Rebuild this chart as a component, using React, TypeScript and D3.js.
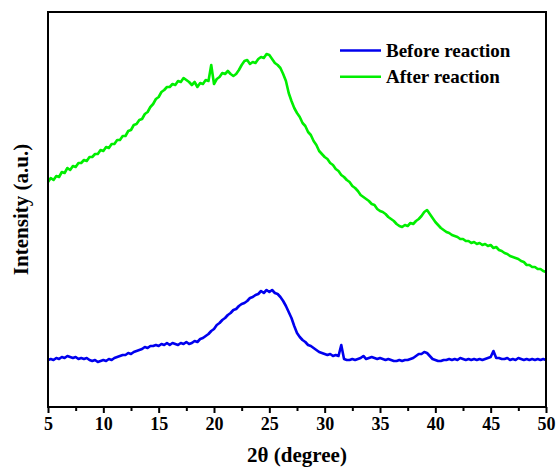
import React, { useRef, useEffect } from "react";
import * as d3 from "d3";

// sampling grid in 2theta (degree), 0.25 step from 5 to 50
const theta = d3.range(5, 50.125, 0.25);

// intensities (a.u.), one per theta
const afterIntensity = [
    225, 229, 227, 231, 230, 235, 234, 239, 237, 241, 240, 244, 244, 247, 246, 250, 250, 253, 253, 257,
    256, 260, 259, 263, 263, 267, 267, 271, 271, 276, 277, 282, 283, 287, 288, 293, 295, 300, 303, 308,
    310, 315, 317, 320, 320, 323, 322, 326, 325, 329, 327, 325, 322, 325, 320, 324, 323, 327, 326, 342,
    323, 328, 330, 334, 333, 336, 333, 331, 333, 337, 342, 346, 347, 343, 345, 344, 348, 350, 349, 353,
    352, 348, 344, 342, 339, 333, 326, 314, 306, 299, 294, 290, 284, 281, 275, 272, 266, 262, 256, 253,
    250, 248, 244, 242, 238, 236, 232, 230, 227, 225, 221, 219, 216, 212, 210, 208, 206, 203, 202, 198,
    196, 195, 193, 190, 188, 186, 183, 181, 180, 182, 181, 184, 183, 186, 188, 191, 195, 197, 193, 189,
    185, 182, 179, 177, 175, 174, 172, 171, 170, 168, 168, 166, 166, 164, 165, 163, 164, 162, 163, 161,
    162, 159, 160, 157, 156, 154, 153, 151, 150, 149, 148, 146, 145, 142, 142, 140, 140, 138, 138, 136,
    135,
];
const beforeIntensity = [
    47, 48, 47, 49, 48, 50, 49, 51, 50, 49, 50, 48, 49, 48, 49, 47, 46, 47, 45, 46,
    47, 46, 48, 47, 49, 50, 51, 52, 52, 54, 53, 55, 56, 57, 58, 60, 59, 61, 61, 62,
    61, 63, 62, 64, 62, 64, 63, 62, 64, 63, 65, 63, 64, 66, 65, 68, 69, 71, 73, 76,
    78, 82, 84, 87, 89, 92, 94, 97, 98, 101, 103, 104, 106, 109, 110, 112, 113, 116, 114, 117,
    115, 117, 114, 113, 110, 106, 101, 95, 89, 81, 74, 70, 67, 65, 62, 61, 59, 57, 55, 54,
    53, 52, 53, 51, 52, 51, 62, 48, 47, 47, 48, 47, 48, 49, 51, 48, 49, 50, 49, 48,
    49, 48, 47, 48, 47, 46, 46, 47, 46, 47, 47, 48, 49, 51, 53, 53, 55, 54, 51, 48,
    47, 46, 46, 47, 47, 48, 47, 48, 47, 49, 48, 47, 48, 47, 48, 47, 48, 47, 48, 49,
    50, 56, 49, 49, 48, 48, 49, 47, 48, 47, 49, 48, 47, 48, 47, 48, 47, 48, 47, 48,
    47,
];

const seriesNames = ["Before reaction", "After reaction"];
const seriesColors = ["#0000ee", "#00ee00"];
const xTicks = [5, 10, 15, 20, 25, 30, 35, 40, 45, 50];
const xMinorTicks = [7.5, 12.5, 17.5, 22.5, 27.5, 32.5, 37.5, 42.5, 47.5];

const App = () => {
    const plot = useRef<SVGSVGElement>(null);

    const width = 557;
    const height = 468;
    const left = 48, right = 546, top = 12, bottom = 407;
    const font = "'Liberation Serif', 'Times New Roman', serif";

    useEffect(() => {
        const svg = d3.select(plot.current);
        svg.selectAll("*").remove();

        const xScale = d3.scaleLinear().domain([5, 50]).range([left, right]);
        const yScale = d3.scaleLinear().domain([0, 395]).range([bottom, top]);

        const line = d3.line<[number, number]>()
            .x(d => xScale(d[0]))
            .y(d => yScale(d[1]))
            .curve(d3.curveLinear);

        const series = [
            theta.map((t, i) => [t, beforeIntensity[i]] as [number, number]),
            theta.map((t, i) => [t, afterIntensity[i]] as [number, number]),
        ];

        series.forEach((s, i) => {
            svg.append("path")
                .attr("fill", "none")
                .attr("stroke", seriesColors[i])
                .attr("stroke-width", 2.6)
                .attr("stroke-linejoin", "round")
                .attr("d", line(s));
        });

        // frame
        svg.append("rect")
            .attr("x", left).attr("y", top)
            .attr("width", right - left).attr("height", bottom - top)
            .attr("fill", "none").attr("stroke", "#000").attr("stroke-width", 2);

        // bottom axis, major + minor ticks
        const xAxis = d3.axisBottom(xScale).tickValues(xTicks).tickSize(6).tickPadding(4);
        svg.append("g")
            .attr("transform", `translate(0, ${bottom})`)
            .call(xAxis)
            .call(g => g.select(".domain").remove())
            .call(g => g.selectAll(".tick line").attr("stroke-width", 2))
            .call(g => g.selectAll(".tick text")
                .attr("font-family", font).attr("font-size", 18)
                .attr("font-weight", "bold").attr("fill", "#000"));
        svg.append("g")
            .attr("transform", `translate(0, ${bottom})`)
            .call(d3.axisBottom(xScale).tickValues(xMinorTicks).tickSize(4).tickFormat(() => ""))
            .call(g => g.select(".domain").remove())
            .call(g => g.selectAll(".tick line").attr("stroke-width", 2));

        svg.append("text")
            .attr("x", 297).attr("y", 462)
            .attr("text-anchor", "middle")
            .attr("font-family", font).attr("font-size", 21).attr("font-weight", "bold")
            .text("2θ (degree)");

        svg.append("text")
            .attr("transform", `translate(28, ${(top + bottom) / 2}) rotate(-90)`)
            .attr("text-anchor", "middle")
            .attr("font-family", font).attr("font-size", 21).attr("font-weight", "bold")
            .text("Intensity (a.u.)");

        // legend
        const legend = svg.append("g");
        seriesNames.forEach((name, i) => {
            const y = 50.5 + i * 26.3;
            legend.append("line")
                .attr("x1", 340).attr("x2", 381).attr("y1", y).attr("y2", y)
                .attr("stroke", seriesColors[i]).attr("stroke-width", 2.6);
            legend.append("text")
                .attr("x", 386).attr("y", y + 6.5)
                .attr("font-family", font).attr("font-size", 19).attr("font-weight", "bold")
                .text(name);
        });
    });

    return (
        <svg ref={plot} width={width} height={height}
            style={{ position: "absolute", left: 0, top: 0, background: "#fff" }} />
    );
};

export default App;
